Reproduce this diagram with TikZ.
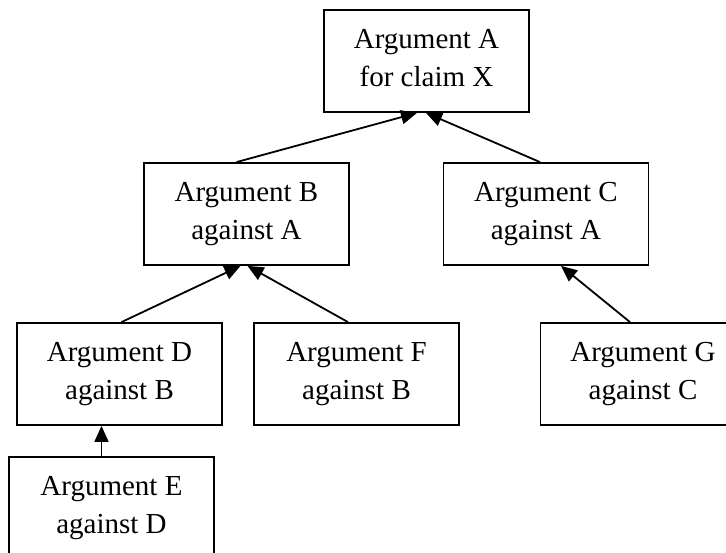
\documentclass[tikz,border=0pt]{standalone}
\usepackage{fontspec}
\setmainfont{Liberation Serif}
\usetikzlibrary{arrows.meta}
\begin{document}
\begin{tikzpicture}[x=1pt,y=-1pt,
  argbox/.style={draw, line width=1.8pt, minimum width=205pt, minimum height=102pt,
    inner sep=0pt, align=center, font=\fontsize{29}{38.7}\selectfont},
  link/.style={line width=1.8pt, -{Triangle[length=16pt,width=14pt]}}]
\path[use as bounding box, clip] (0,0) rectangle (726,553);
\node[argbox] (A) at (426.5,61)  {Argument A\\for claim X\vphantom{g}};
\node[argbox] (B) at (246.5,214) {Argument B\\against A};
\node[argbox] (C) at (546,214)   {Argument C\\against A};
\node[argbox] (D) at (119.5,374) {Argument D\\against B};
\node[argbox] (F) at (356.5,374) {Argument F\\against B};
\node[argbox] (G) at (643,374)   {Argument G\\against C};
\node[argbox] (E) at (111.5,508) {Argument E\\against D};
\draw[link] ([xshift=-10pt]B.north) -- ([xshift=-9.5pt]A.south);
\draw[link] ([xshift=-6pt]C.north)  -- ([xshift=-0.5pt]A.south);
\draw[link] ([xshift=2pt]D.north)   -- ([xshift=-6pt]B.south);
\draw[link] ([xshift=-8.5pt]F.north) -- ([xshift=1pt]B.south);
\draw[link] ([xshift=-13pt]G.north) -- ([xshift=15pt]C.south);
\draw[link] ([xshift=-10pt]E.north) -- ([xshift=-18pt]D.south);
\end{tikzpicture}
\end{document}
